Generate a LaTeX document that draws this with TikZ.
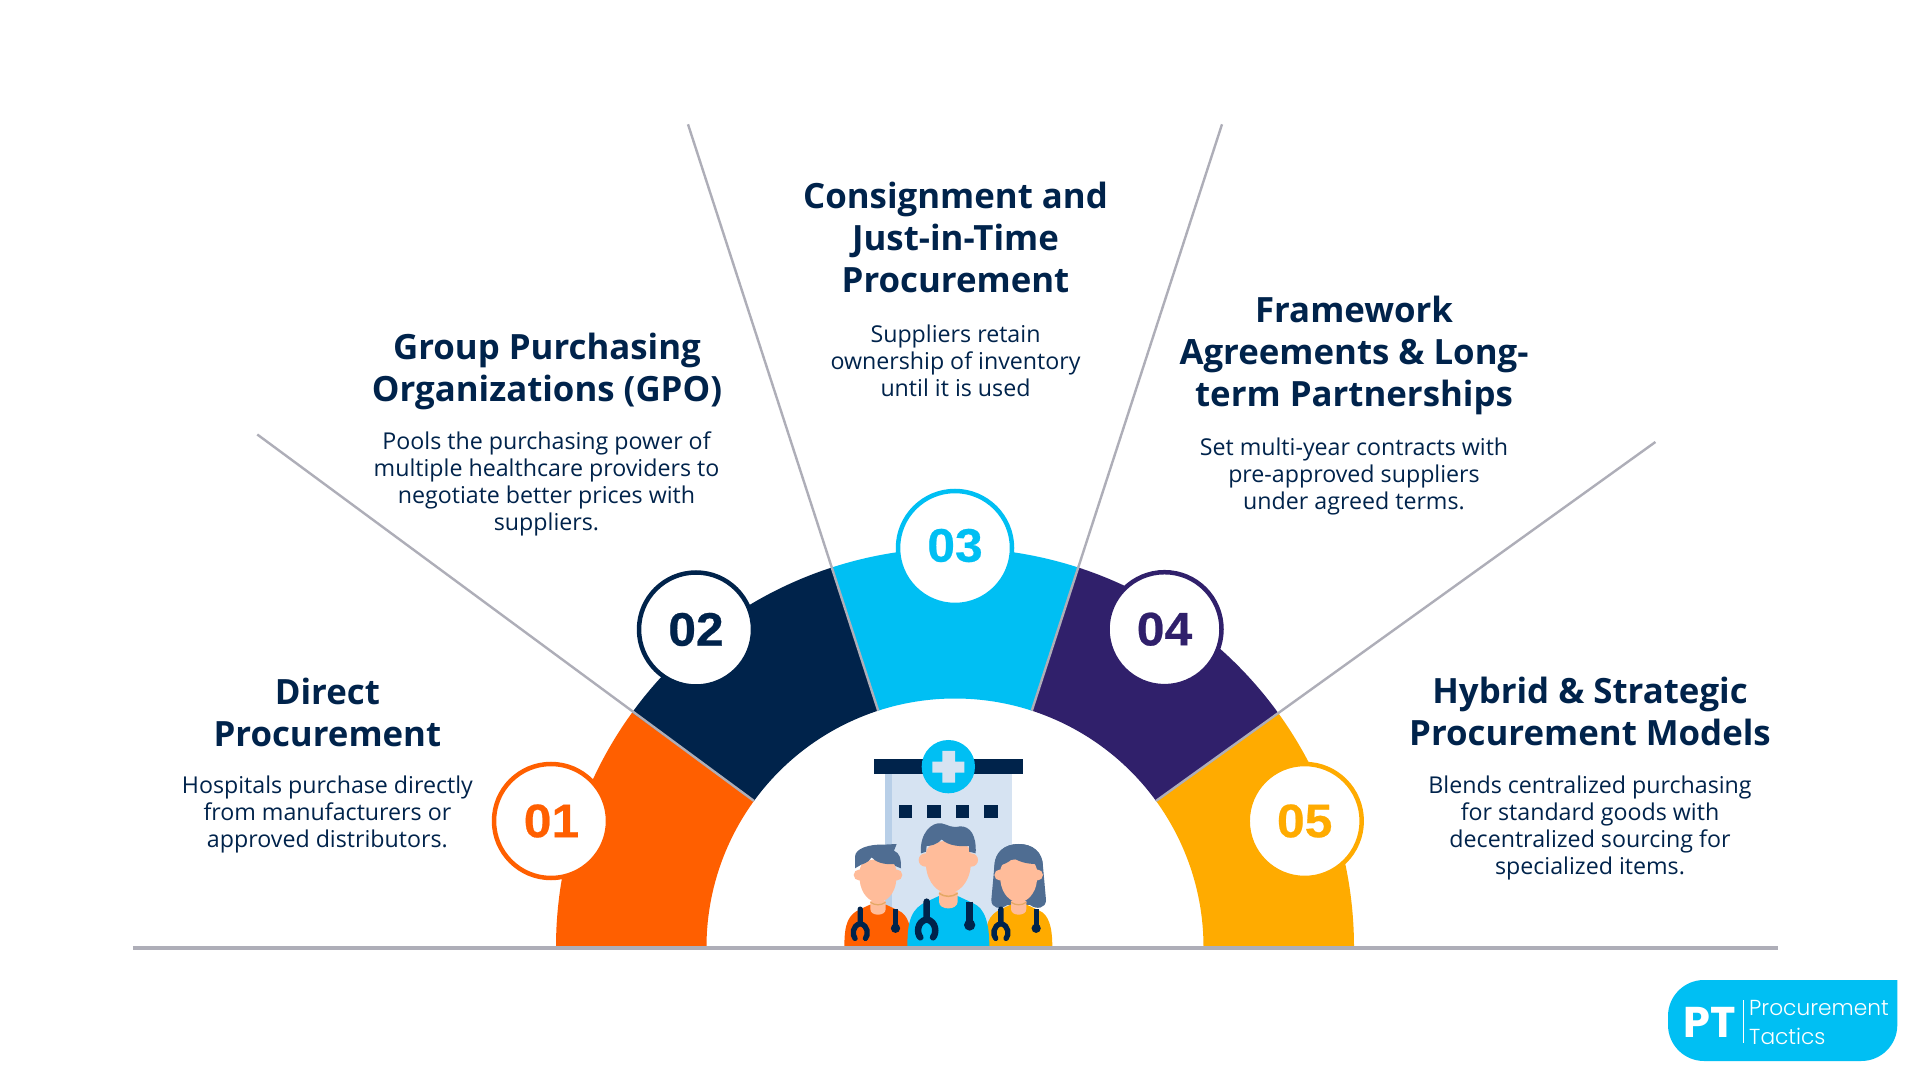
\documentclass[tikz,border=0pt]{standalone}
\usepackage{fontspec}
\setmainfont{Open Sans}
\newfontfamily\headfont{Open Sans}
\newfontfamily\numfont[FakeStretch=1.06,FakeBold=0.5]{Liberation Sans}
\newfontfamily\logofont{Poppins}
\newfontfamily\logolight{Poppins Light}
\definecolor{cOrange}{HTML}{FF5F00}
\definecolor{cNavy}{HTML}{00234B}
\definecolor{cCyan}{HTML}{00BFF3}
\definecolor{cPurple}{HTML}{30206B}
\definecolor{cAmber}{HTML}{FFAB00}
\definecolor{cGray}{HTML}{AEAEB8}
\definecolor{cSkin}{HTML}{FFBC9A}
\definecolor{cHair}{HTML}{4F6D92}
\definecolor{cCollar}{HTML}{E5A865}
\definecolor{cWall}{HTML}{D6E3F2}
\definecolor{cWallD}{HTML}{B8CFE8}
\tikzset{
  heading/.style={font=\headfont\bfseries\fontsize{34.8}{42}\selectfont,text=cNavy,align=center,inner sep=0pt},
  bodytext/.style={font=\fontsize{23.2}{27}\selectfont,text=cNavy,align=center,inner sep=0pt},
  numcircle/.style={circle,draw=#1,fill=white,text=#1,line width=4.5pt,minimum size=114pt,inner sep=0pt,font=\numfont\bfseries\fontsize{47}{47}\selectfont},
  rayline/.style={draw=cGray,line width=2.4pt},
  baseline/.style={draw=cGray,line width=3.5pt}
}
\newcommand{\ringseg}[3]{\fill[#1] (#2:399) arc[start angle=#2,end angle=#3,radius=399] -- (#3:248.5) arc[start angle=#3,end angle=#2,radius=248.5] -- cycle;}
% doctor in local zoom units; origin midway between the ears
\newcommand{\doctorfig}[2]{%
  \fill[#1] (-123,260) .. controls (-123,180) and (-110,145) .. (-65,125) -- (-28,108) -- (28,108) -- (75,130) .. controls (110,145) and (123,190) .. (123,260) -- cycle;
  \fill[cSkin] (-28,95) -- (-28,125) .. controls (-28,152) and (28,152) .. (28,125) -- (28,95) -- cycle;
  \draw[cCollar,line width=#2*1.5pt] (-28,100) .. controls (-10,112) and (10,112) .. (28,100);
  \fill[cSkin] (-67,-20) -- (-67,20) .. controls (-62,70) and (-30,100) .. (0,100) .. controls (30,100) and (62,70) .. (67,20) -- (67,-20) .. controls (67,-70) and (-67,-70) .. (-67,-20) -- cycle;
  \fill[cSkin] (-69,0) circle[radius=20] (69,0) circle[radius=20];
  \draw[cNavy,line width=#2*6.5pt,line cap=round] (-65,125) -- (-65,178) (-65,178) .. controls (-95,185) and (-95,220) .. (-84,232) (-65,178) .. controls (-35,185) and (-35,220) .. (-46,232);
  \draw[cNavy,line width=#2*6.5pt] (64,125) -- (64,190);
  \fill[cNavy] (64,195) circle[radius=17];
}
\begin{document}
\begin{tikzpicture}[x=1pt,y=1pt]
\useasboundingbox (0,0) rectangle (1920,1080);
\fill[white] (0,0) rectangle (1920,1080);
% ring
\begin{scope}[shift={(955,133)}]
  \ringseg{cOrange}{144}{180}
  \ringseg{cNavy}{108}{144}
  \ringseg{cCyan}{72}{108}
  \ringseg{cPurple}{36}{72}
  \ringseg{cAmber}{0}{36}
  \coordinate (i1) at (144:248.5);
  \coordinate (i2) at (108:248.5);
  \coordinate (i3) at (72:248.5);
  \coordinate (i4) at (36:248.5);
\end{scope}
\coordinate (t1) at (257.3,645.5);
\coordinate (t2) at (688,955.7);
\coordinate (t3) at (1222,955.7);
\coordinate (t4) at (1655.4,638);
\draw[rayline] (i1) -- (t1);
\draw[rayline] (i2) -- (t2);
\draw[rayline] (i3) -- (t3);
\draw[rayline] (i4) -- (t4);
% illustration
\begin{scope}[shift={(820,360)},x=0.33333pt,y=-0.33333pt]
  \fill[cWall] (195,160) rectangle (576,680);
  \fill[cWallD] (195,160) rectangle (216,680);
  \fill[cNavy] (162,118) rectangle (608,162);
  \foreach \wx in {237,322,408,493} \fill[cNavy] (\wx,254) rectangle ++(40,39);
  \fill[cCyan] (385,140) circle[radius=80];
  \fill[cWall] (367,93) rectangle (405,188) (337,125) rectangle (433,158);
  % left doctor
  \begin{scope}[shift={(174,465)},scale=0.82]
    \doctorfig{cOrange}{0.82}
  \end{scope}
  \fill[cHair] (105,445) -- (105,410) .. controls (105,385) and (150,372) .. (190,374) -- (230,372) -- (222,392) .. controls (240,400) and (243,415) .. (243,445) -- (226,438) -- (222,432) .. controls (190,435) and (165,425) .. (155,412) .. controls (145,430) and (125,432) .. (122,435) -- cycle;
  % right doctor
  \fill[cHair] (523,440) .. controls (523,395) and (555,372) .. (596,372) .. controls (637,372) and (669,395) .. (669,440) -- (678,540) .. controls (678,565) and (650,570) .. (630,555) -- (562,555) .. controls (540,570) and (514,565) .. (514,540) -- cycle;
  \begin{scope}[shift={(596,465)},scale=0.82]
    \doctorfig{cAmber}{0.82}
  \end{scope}
  \fill[cHair] (523,447) .. controls (523,395) and (555,372) .. (596,372) .. controls (637,372) and (669,395) .. (669,447) -- (650,440) -- (648,432) .. controls (620,432) and (595,425) .. (578,412) .. controls (570,430) and (545,432) .. (543,437) -- cycle;
  % centre doctor
  \begin{scope}[shift={(385,420)}]
    \doctorfig{cCyan}{1}
  \end{scope}
  \fill[cHair] (303,400) .. controls (298,340) and (335,305) .. (365,310) .. controls (385,315) and (395,325) .. (420,319) .. controls (450,318) and (470,345) .. (467,400) -- (447,395) -- (447,378) .. controls (420,380) and (385,378) .. (365,358) .. controls (350,375) and (330,378) .. (320,378) -- (318,395) -- cycle;
\end{scope}
% baseline
\coordinate (b0) at (132.8,132);
\coordinate (b1) at (1777.5,132);
\draw[baseline] (b0) -- (b1);
% number circles
\node[numcircle=cOrange] (n1) at (551,259) {\hspace{1pt}01};
\node[numcircle=cNavy] (n2) at (696,450.5) {02};
\node[numcircle=cCyan] (n3) at (955,532) {\raisebox{5.5pt}{03}};
\node[numcircle=cPurple] (n4) at (1164.5,450.8) {04};
\node[numcircle=cAmber] (n5) at (1304.7,259) {05};
% texts
\node[heading] (h1) at (327.4,367.5) {Direct\\Procurement};
\node[bodytext] (b1t) at (327.4,265.2) {Hospitals purchase directly\\from manufacturers or\\approved distributors.};
\node[heading] (h2) at (547,708.3) {Group Purchasing\\Organizations (GPO)};
\node[bodytext] (b2t) at (546.5,596.3) {Pools the purchasing power of\\multiple healthcare providers to\\negotiate better prices with\\suppliers.};
\node[heading] (h3) at (955.5,842.4) {Consignment and\\Just-in-Time\\Procurement};
\node[bodytext] (b3t) at (955.5,719.4) {Suppliers retain\\ownership of inventory\\until it is used};
\node[heading] (h4) at (1354,724.3) {Framework\\Agreements \& Long-\\term Partnerships};
\node[bodytext] (b4t) at (1354,603.7) {Set multi-year contracts with\\pre-approved suppliers\\under agreed terms.};
\node[heading] (h5) at (1590,368.7) {Hybrid \& Strategic\\Procurement Models};
\node[bodytext] (b5t) at (1590,251.7) {Blends centralized purchasing\\for standard goods with\\decentralized sourcing for\\specialized items.};
% logo
\fill[cCyan] (1897.3,100) -- (1704,100) arc[start angle=90,end angle=180,radius=36] -- (1668,55) arc[start angle=180,end angle=270,radius=36] -- (1861.3,19) arc[start angle=270,end angle=360,radius=36] -- cycle;
\node[text=white,font=\logofont\bfseries\fontsize{43}{43}\selectfont,inner sep=0pt] (ptmark) at (1710,58) {PT};
\coordinate (s0) at (1743,80);
\coordinate (s1) at (1743,37);
\draw[white,line width=0.7pt] (s0) -- (s1);
\node[text=white,font=\logolight\fontsize{21.7}{21.7}\selectfont,inner sep=0pt,anchor=west] (lg1) at (1749,72) {Procurement};
\node[text=white,font=\logolight\fontsize{21.7}{21.7}\selectfont,inner sep=0pt,anchor=west] (lg2) at (1749,44) {Tactics};
\end{tikzpicture}
\end{document}
